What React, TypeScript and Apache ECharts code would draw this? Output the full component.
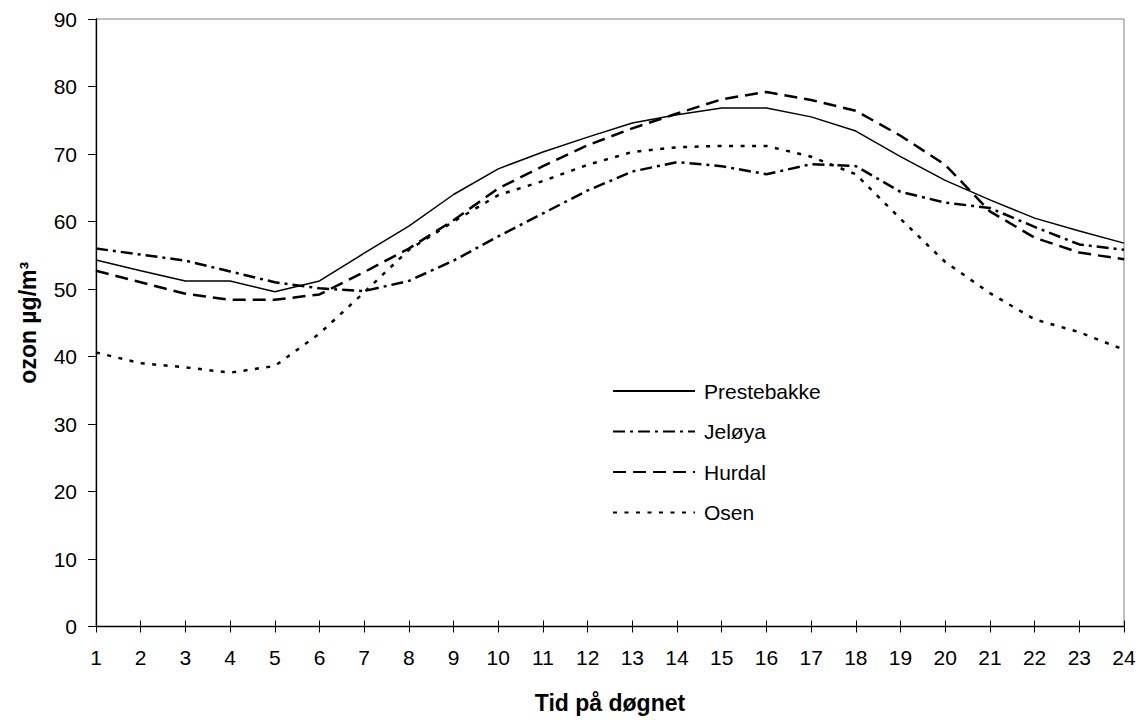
import React, { useEffect, useRef } from "react";
import * as echarts from "echarts";

const hours = ["1","2","3","4","5","6","7","8","9","10","11","12","13","14","15","16","17","18","19","20","21","22","23","24"];

const prestebakke = [54.3, 52.7, 51.2, 51.2, 49.6, 51.2, 55.3, 59.3, 64.0, 67.8, 70.3, 72.5, 74.6, 75.8, 76.8, 76.8, 75.5, 73.4, 69.6, 66.1, 63.2, 60.5, 58.6, 56.8];
const jeloya = [56.0, 55.1, 54.2, 52.6, 51.0, 50.1, 49.7, 51.2, 54.2, 57.8, 61.2, 64.6, 67.4, 68.8, 68.2, 67.0, 68.5, 68.2, 64.4, 62.8, 62.0, 59.2, 56.6, 55.8];
const hurdal = [52.7, 51.0, 49.3, 48.4, 48.4, 49.2, 52.5, 56.0, 60.2, 64.9, 68.2, 71.3, 73.8, 76.0, 78.1, 79.2, 78.0, 76.4, 72.7, 68.4, 61.5, 57.6, 55.4, 54.4];
const osen = [40.6, 39.0, 38.4, 37.6, 38.6, 43.4, 49.5, 55.8, 60.0, 63.9, 66.0, 68.4, 70.3, 71.0, 71.2, 71.2, 69.6, 67.0, 60.4, 54.0, 49.4, 45.5, 43.6, 41.0];

const FONT = "'Liberation Sans', Arial, Helvetica, sans-serif";

export default function App() {
  const ref = useRef<HTMLDivElement>(null);
  useEffect(() => {
    if (!ref.current) return;
    const chart = echarts.init(ref.current, undefined, { renderer: "svg" });
    const option: any = {
      animation: false,
      backgroundColor: "#ffffff",
      textStyle: { fontFamily: FONT, color: "#000" },
      grid: {
        left: 96,
        right: 17,
        top: 19,
        bottom: 93.5,
        show: true,
        borderColor: "#808080",
        borderWidth: 1,
        backgroundColor: "transparent",
      },
      legend: {
        orient: "vertical",
        left: 612,
        top: 380,
        padding: 0,
        itemWidth: 82,
        itemHeight: 12,
        itemGap: 18.5,
        itemStyle: { color: "transparent", borderColor: "transparent", borderWidth: 0, opacity: 0 },
        textStyle: { fontFamily: FONT, fontSize: 21, color: "#000", lineHeight: 22, padding: [0, 0, 0, 4] },
        data: ["Prestebakke", "Jeløya", "Hurdal", "Osen"],
      },
      xAxis: [
        {
          type: "category",
          data: hours,
          boundaryGap: false,
          name: "Tid på døgnet",
          nameLocation: "middle",
          nameGap: 65,
          nameTextStyle: { fontFamily: FONT, fontSize: 23, fontWeight: "bold", color: "#000" },
          axisLine: { show: true, lineStyle: { color: "#000", width: 1.3 } },
          axisTick: { show: true, inside: false, length: 6, alignWithLabel: true, lineStyle: { color: "#000", width: 1 } },
          axisLabel: { fontFamily: FONT, fontSize: 21, color: "#000", margin: 20, interval: 0 },
          splitLine: { show: false },
        },
        {
          type: "category",
          data: hours,
          boundaryGap: false,
          position: "bottom",
          axisLine: { show: false },
          axisTick: { show: true, inside: true, length: 6, lineStyle: { color: "#000", width: 1 } },
          axisLabel: { show: false },
          splitLine: { show: false },
        },
      ],
      yAxis: {
        type: "value",
        min: 0,
        max: 90,
        interval: 10,
        name: "ozon µg/m³",
        nameLocation: "middle",
        nameGap: 57,
        nameRotate: 90,
        nameTextStyle: { fontFamily: FONT, fontSize: 23, fontWeight: "bold", color: "#000" },
        axisLine: { show: true, lineStyle: { color: "#000", width: 1.3 } },
        axisTick: { show: true, inside: false, length: 8, lineStyle: { color: "#000", width: 1 } },
        axisLabel: { fontFamily: FONT, fontSize: 21, color: "#000", margin: 19 },
        splitLine: { show: false },
      },
      series: [
        {
          name: "Prestebakke",
          type: "line",
          data: prestebakke,
          symbol: "none",
          lineStyle: { color: "#000", width: 1.5, type: "solid" },
          itemStyle: { color: "#000" },
          z: 4,
        },
        {
          name: "Jeløya",
          type: "line",
          data: jeloya,
          symbol: "none",
          lineStyle: { color: "#000", width: 2.5, type: [12, 5, 3, 5] },
          itemStyle: { color: "#000" },
          z: 3,
        },
        {
          name: "Hurdal",
          type: "line",
          data: hurdal,
          symbol: "none",
          lineStyle: { color: "#000", width: 2.5, type: [13, 7] },
          itemStyle: { color: "#000" },
          z: 3,
        },
        {
          name: "Osen",
          type: "line",
          data: osen,
          symbol: "none",
          lineStyle: { color: "#000", width: 2.5, type: [4, 7.5] },
          itemStyle: { color: "#000" },
          z: 2,
        },
      ],
    };
    chart.setOption(option);
    return () => chart.dispose();
  }, []);
  return (
    <div
      ref={ref}
      style={{ position: "fixed", left: 0, top: 0, width: 1141, height: 720, background: "#fff" }}
    />
  );
}
